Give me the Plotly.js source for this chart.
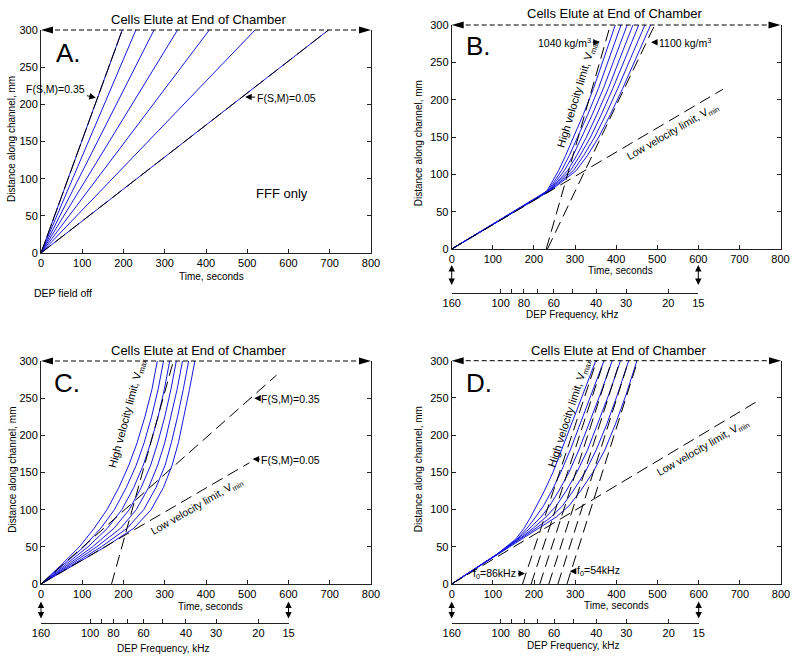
<!DOCTYPE html>
<html><head><meta charset="utf-8">
<script src="https://cdn.plot.ly/plotly-3.0.1.min.js"></script>
<style>html,body{margin:0;padding:0;background:#fff}#chart{width:800px;height:662px}</style>
</head><body><div id="chart"></div>
<script>
// ---------------- data ----------------
const timeTicks = [0,100,200,300,400,500,600,700,800];
const distTicks = [0,50,100,150,200,250,300];
const freqTickVals = [160,100,80,60,40,30,20,15];
const freqTickText = ['160','100','80','60','40','30','20','15'];
const freqMinorVals = [90,70,50];
const chamberLength = [300,300];
const chamberSpan = [0,800];

// Panel A (FFF only): straight trajectories, elution times for F(S,M)=0.35 ... 0.05
const aElutionTimes = [197,230,274,331,408,519,697];
const aDist = [0,300];

// Panel B: densities 1040 ... 1100 kg/m3
const bDist = [0,40,70,78,90,105,125,150,180,215,255,300];
const bTime1040 = [0,121,212,232,245,260,277,297,320,345,370,398];
const bTime1050 = [0,121,212,233,249,267,286,307,331,357,383,412];
const bTime1060 = [0,121,212,235,253,274,295,317,342,369,396,427];
const bTime1070 = [0,121,212,236,257,282,304,328,353,381,409,441];
const bTime1080 = [0,121,212,237,260,289,312,338,364,392,422,455];
const bTime1090 = [0,121,212,239,264,296,321,348,375,404,435,470];
const bTime1100 = [0,121,212,240,268,303,330,358,386,416,448,484];
const bVmax1040T = [230,386], bVmax1100T = [233,494], bVmaxD = [0,300];
const bVminT = [0,660], bVminD = [0,214];

// Panel C: F(S,M) 0.35 ... 0.05
const cDist = [0,25,50,75,100,130,160,190,225,262,300];
const cTime035 = [0,48,93,129,160,189,213,233,252,269,282];
const cTime030 = [0,53,104,145,178,207,231,250,268,284,297];
const cTime025 = [0,58,114,161,196,225,248,266,284,299,312];
const cTime020 = [0,63,125,177,214,243,266,283,300,315,328];
const cTime015 = [0,68,135,193,231,261,283,300,315,330,343];
const cTime010 = [0,73,146,209,249,279,301,316,331,345,358];
const cTime005 = [0,78,156,225,267,297,318,333,347,360,373];
const cVmaxT = [171,321], cVmaxD = [0,300];
const cVmin035T = [0,571], cVmin035D = [0,281];
const cVmin005T = [0,505], cVmin005D = [0,163];

// Panel D: crossover frequency f0 = 86 ... 54 kHz
const dDist = [0,40,60,75,90,105,125,150,180,215,255,300];
const dTime86 = [0,110,155,176,192,207,225,246,267,291,319,350];
const dTime77 = [0,110,158,183,204,223,243,265,288,312,340,370];
const dTime70 = [0,111,160,190,217,238,260,285,309,334,361,390];
const dTime64 = [0,111,163,198,229,254,278,304,330,355,382,410];
const dTime59 = [0,112,165,205,242,269,295,324,351,377,403,430];
const dTime54 = [0,112,168,212,254,285,313,343,372,398,424,450];
const dVmaxStartT = [172,193,214,236,258,280];
const dVmaxEndT = [352,370,389,409,430,452];
const dVmaxD = [0,300];
const dVminT = [0,741], dVminD = [0,245];

// ---------------- styling / layout ----------------
const FONT = 'Liberation Sans, Arial, Helvetica, sans-serif';
const BLUE = '#1717e0';
const BLACK = '#000';
const LONGDASH = '12px,6px';
const P = {
  A:{x0:41,   x1:371,   yTop:30,    yBot:253, xa:'x',  ya:'y'},
  B:{x0:451.7,x1:780.5, yTop:25,    yBot:249, xa:'x2', ya:'y2'},
  C:{x0:41,   x1:371,   yTop:361,   yBot:584, xa:'x3', ya:'y3'},
  D:{x0:451.7,x1:781,   yTop:360.7, yBot:584, xa:'x4', ya:'y4'}
};
const W = 800, H = 662;
const PX = v => v / W, PY = v => 1 - v / H;
const pxX = (p,t) => p.x0 + (p.x1 - p.x0) * t / 800;

const traces = [];
function addLine(p, t, d, color, dash) {
  traces.push({x:t, y:d, xaxis:p.xa, yaxis:p.ya, type:'scatter', mode:'lines',
    line:{color:color, width:1, dash:dash || 'solid'}, hoverinfo:'skip', showlegend:false});
}

// Panel A
aElutionTimes.forEach(te => addLine(P.A, [0, te], aDist, BLUE));
addLine(P.A, [0, aElutionTimes[0]], aDist, BLACK, '14px,3px');
addLine(P.A, [0, aElutionTimes[aElutionTimes.length-1]], aDist, BLACK, LONGDASH);

// Panel B
[bTime1040,bTime1050,bTime1060,bTime1070,bTime1080,bTime1090,bTime1100].forEach(tt => addLine(P.B, tt, bDist, BLUE));
addLine(P.B, bVminT, bVminD, BLACK, LONGDASH);
addLine(P.B, bVmax1040T, bVmaxD, BLACK, LONGDASH);
addLine(P.B, bVmax1100T, bVmaxD, BLACK, LONGDASH);

// Panel C
[cTime035,cTime030,cTime025,cTime020,cTime015,cTime010,cTime005].forEach(tt => addLine(P.C, tt, cDist, BLUE));
addLine(P.C, cVmin035T, cVmin035D, BLACK, LONGDASH);
addLine(P.C, cVmin005T, cVmin005D, BLACK, LONGDASH);
addLine(P.C, cVmaxT, cVmaxD, BLACK, LONGDASH);

// Panel D
[dTime86,dTime77,dTime70,dTime64,dTime59,dTime54].forEach(tt => addLine(P.D, tt, dDist, BLUE));
addLine(P.D, dVminT, dVminD, BLACK, LONGDASH);
dVmaxStartT.forEach((ts,i) => addLine(P.D, [ts, dVmaxEndT[i]], dVmaxD, BLACK, LONGDASH));

// dummy traces for frequency axes
['5','6','7'].forEach(k => traces.push({x:[50], y:[0.5], xaxis:'x'+k, yaxis:'y'+k, type:'scatter',
  mode:'markers', marker:{opacity:0}, hoverinfo:'skip', showlegend:false}));

function mainX(p, anchor) {
  return {domain:[PX(p.x0), PX(p.x1)], anchor:anchor, range:[0,800], tickmode:'array', tickvals:timeTicks,
    ticks:'inside', ticklen:4, tickcolor:'#222', showline:true, linecolor:'#222', linewidth:1,
    mirror:false, showgrid:false, zeroline:false, tickfont:{size:11, family:FONT, color:'#000'}, fixedrange:true};
}
function mainY(p, anchor) {
  return {domain:[PY(p.yBot), PY(p.yTop)], anchor:anchor, range:[0,300], tickmode:'array', tickvals:distTicks,
    ticks:'inside', ticklen:4, tickcolor:'#222', showline:true, linecolor:'#222', linewidth:1,
    mirror:'ticks', showgrid:false, zeroline:false, tickfont:{size:11, family:FONT, color:'#000'}, fixedrange:true};
}
function freqX(p, anchor) {
  return {domain:[PX(p.x0), PX(pxX(p,600))], anchor:anchor, type:'log',
    range:[Math.log10(160), Math.log10(15)], tickmode:'array', tickvals:freqTickVals, ticktext:freqTickText,
    ticks:'inside', ticklen:4, tickcolor:'#222', showline:true, linecolor:'#222', linewidth:1,
    minor:{tickmode:'array', tickvals:freqMinorVals, ticks:'inside', ticklen:4, tickcolor:'#222', showgrid:false},
    showgrid:false, zeroline:false, tickfont:{size:11, family:FONT, color:'#000'}, fixedrange:true};
}
function freqY(p, off, anchor) {
  const b = PY(p.yBot + off);
  return {domain:[b, b + 0.02], anchor:anchor, range:[0,1], visible:false, fixedrange:true};
}

// shapes: elution line with arrowheads, double arrows for the frequency/time link
const shapes = [];
function tri(ax, ay, bx1, by1, bx2, by2) {
  shapes.push({type:'path', xref:'paper', yref:'paper',
    path:`M ${PX(ax)},${PY(ay)} L ${PX(bx1)},${PY(by1)} L ${PX(bx2)},${PY(by2)} Z`,
    fillcolor:'#000', line:{width:0}});
}
['A','B','C','D'].forEach(k => {
  const p = P[k];
  shapes.push({type:'line', xref:'paper', yref:'paper', x0:PX(p.x0+6), x1:PX(p.x1-6), y0:PY(p.yTop), y1:PY(p.yTop),
    line:{color:'#000', width:1, dash:'5px,3px'}});
  tri(p.x0, p.yTop, p.x0+12, p.yTop-3.5, p.x0+12, p.yTop+3.5);
  tri(p.x1, p.yTop, p.x1-12, p.yTop-3.5, p.x1-12, p.yTop+3.5);
});
function dbl(p, t, top, bot) {
  const x = pxX(p, t);
  const yt = p.yBot + top, yb = p.yBot + bot;
  tri(x, yt, x-3.2, yt+6.5, x+3.2, yt+6.5);
  tri(x, yb, x-3.2, yb-6.5, x+3.2, yb-6.5);
  shapes.push({type:'line', xref:'paper', yref:'paper', x0:PX(x), x1:PX(x), y0:PY(yt+6), y1:PY(yb-6),
    line:{color:'#000', width:1}});
}
dbl(P.B, 0, 16, 36); dbl(P.B, 600, 16, 36);
dbl(P.C, 0, 17.5, 34.5); dbl(P.C, 600, 17.5, 34.5);
dbl(P.D, 0, 17.5, 34.5); dbl(P.D, 600, 17.5, 34.5);

// annotations
const ann = [];
function T(px, py, text, size, extra) {
  ann.push(Object.assign({xref:'paper', yref:'paper', x:PX(px), y:PY(py), text:text, showarrow:false,
    xanchor:'center', yanchor:'middle', font:{size:size, family:FONT, color:'#000'}}, extra || {}));
}
function A(p, t, d, text, ax, ay) {
  ann.push({xref:p.xa, yref:p.ya, x:t, y:d, text:text, showarrow:true, arrowhead:2, arrowsize:1.3,
    arrowwidth:1, arrowcolor:'#000', standoff:0, ax:ax, ay:ay, font:{size:10.5, family:FONT, color:'#000'}});
}
const title = 'Cells Elute at End of Chamber';
T(199, 20, title, 13); T(615, 13.5, title, 13); T(199, 350, title, 13); T(619, 350, title, 13);
T(68.5, 52.5, 'A.', 26); T(478.5, 46, 'B.', 26); T(66.5, 382.5, 'C.', 26); T(478.5, 382.5, 'D.', 26);
const ylab = 'Distance along channel, mm', xlab = 'Time, seconds', flab = 'DEP Frequency, kHz';
T(12, 139, ylab, 10, {textangle:-90}); T(418.3, 143, ylab, 10, {textangle:-90});
T(11.7, 470, ylab, 10, {textangle:-90}); T(418.3, 469, ylab, 10, {textangle:-90});
T(211, 276, xlab, 10); T(620.8, 270.7, xlab, 10); T(210.7, 606, xlab, 10); T(616.7, 605, xlab, 10);
T(572, 314.3, flab, 10); T(163, 648.3, flab, 10); T(572.5, 645, flab, 10);
T(62.5, 293, 'DEP field off', 10.5);
T(282, 193, 'FFF only', 13);
const hv = 'High velocity limit, V<sub>max</sub>', lv = 'Low velocity limit, V<sub>min</sub>';
T(577.8, 93, hv, 11, {textangle:-73}); T(672.2, 131.8, lv, 10.5, {textangle:-30});
T(127.6, 413, hv, 11, {textangle:-75}); T(196.1, 506.7, lv, 10.5, {textangle:-30});
T(569, 413.6, hv, 11, {textangle:-72}); T(702.4, 447.8, lv, 10.5, {textangle:-30});

A(P.A, 133, 209, 'F(S,M)=0.35', -40, -8.6);
A(P.A, 495, 210, 'F(S,M)=0.05', 41, 1);
A(P.B, 360, 277, '1040 kg/m<sup>3</sup>', -35, 0);
A(P.B, 485, 277, '1100 kg/m<sup>3</sup>', 34, 0);
A(P.C, 517, 250, 'F(S,M)=0.35', 36, 0.7);
A(P.C, 513, 168, 'F(S,M)=0.05', 38, 0.7);
A(P.D, 178, 14, 'f<sub>0</sub>=86kHz', -30, 0);
A(P.D, 287, 17, 'f<sub>0</sub>=54kHz', 29, 0);

const layout = {
  width:W, height:H, margin:{l:0, r:0, t:0, b:0}, paper_bgcolor:'#fff', plot_bgcolor:'#fff',
  showlegend:false, hovermode:false, font:{family:FONT, color:'#000'},
  xaxis:mainX(P.A,'y'), yaxis:mainY(P.A,'x'),
  xaxis2:mainX(P.B,'y2'), yaxis2:mainY(P.B,'x2'),
  xaxis3:mainX(P.C,'y3'), yaxis3:mainY(P.C,'x3'),
  xaxis4:mainX(P.D,'y4'), yaxis4:mainY(P.D,'x4'),
  xaxis5:freqX(P.B,'y5'), yaxis5:freqY(P.B,44,'x5'),
  xaxis6:freqX(P.C,'y6'), yaxis6:freqY(P.C,39,'x6'),
  xaxis7:freqX(P.D,'y7'), yaxis7:freqY(P.D,38.7,'x7'),
  shapes:shapes, annotations:ann
};
Plotly.newPlot('chart', traces, layout, {staticPlot:true, displayModeBar:false});
</script>
</body></html>
